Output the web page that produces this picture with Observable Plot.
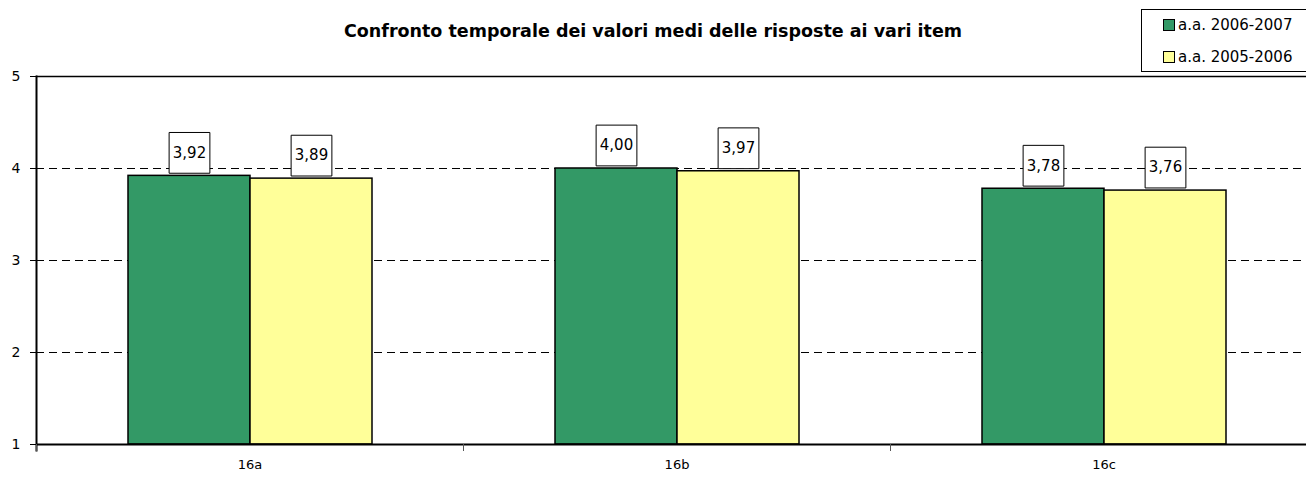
<!DOCTYPE html>
<html>
<head>
<meta charset="utf-8">
<script src="https://cdn.jsdelivr.net/npm/d3@7"></script>
<script src="https://cdn.jsdelivr.net/npm/@observablehq/plot@0.6"></script>
<style>
  html, body { margin: 0; padding: 0; background: #fff; }
  #wrap { position: relative; width: 1306px; height: 482px; overflow: hidden; font-family: "Comic Sans MS", "DejaVu Sans", sans-serif; }
  #title { position: absolute; left: 0; width: 1306px; top: 21px; text-align: center; font-weight: bold; font-size: 17.5px; color: #000; }
  #legend { position: absolute; left: 1141px; top: 9px; width: 170px; height: 63px; border: 1px solid #000; background: #fff; font-size: 15px; box-sizing: border-box; }
  .item { position: absolute; left: 21px; display: flex; align-items: center; white-space: nowrap; }
  .sw { width: 10px; height: 10px; border: 1px solid #000; margin-right: 3px; }
  #chart { position: absolute; left: 0; top: 0; width: 1320px; height: 482px; }
  #chart svg { max-width: none !important; }
</style>
</head>
<body>
<div id="wrap">
  <div id="chart"></div>
  <div id="title"></div>
  <div id="legend"></div>
</div>
<script>
const titleText = "Confronto temporale dei valori medi delle risposte ai vari item";
const categories = ["16a", "16b", "16c"];
const series = ["a.a. 2006-2007", "a.a. 2005-2006"];
const values20062007 = [3.92, 4.00, 3.78];
const values20052006 = [3.89, 3.97, 3.76];
const seriesColors = ["#339966", "#ffff99"];
const yTicks = [1, 2, 3, 4, 5];
const gridValues = [2, 3, 4];

const data = categories.flatMap((c, i) => [
  {cat: c, s: series[0], v: values20062007[i]},
  {cat: c, s: series[1], v: values20052006[i]}
]);
const fmt = v => d3.format(".2f")(v).replace(".", ",");
const font = "'Comic Sans MS', 'DejaVu Sans', sans-serif";

const chart = Plot.plot({
  width: 1318,
  height: 482,
  marginTop: 76,
  marginBottom: 38,
  marginLeft: 35,
  marginRight: 0,
  style: {fontFamily: font, fontSize: "13px", background: "transparent", overflow: "visible", maxWidth: "none"},
  fx: {domain: categories, padding: 0, label: null, axis: null},
  x: {domain: series, paddingInner: 0, paddingOuter: 0.75, align: 0.5, axis: null},
  y: {domain: [1, 5], label: null},
  color: {domain: series, range: seriesColors},
  marks: [
    Plot.ruleY(gridValues, {stroke: "#000", strokeWidth: 1, strokeDasharray: "8,5"}),
    Plot.ruleY([5], {stroke: "#000", strokeWidth: 1.5}),
    Plot.barY(data, {fx: "cat", x: "s", y1: 1, y2: "v", fill: "s", stroke: "#000", strokeWidth: 1.5}),
    Plot.ruleY([1], {stroke: "#000", strokeWidth: 2}),
    Plot.frame({anchor: "left", facetAnchor: "left", stroke: "#000", strokeWidth: 2, insetBottom: -6}),
    Plot.frame({anchor: "left", stroke: "#555", strokeWidth: 1, insetTop: 368, insetBottom: -6}),
    Plot.axisY({ticks: yTicks, tickFormat: d => String(d), tickSize: 6, tickPadding: 10, fontSize: 14, label: null}),
    Plot.axisFx({anchor: "bottom", tickSize: 0, tickPadding: 15, fontSize: 13, label: null}),
    Plot.dot(data, {fx: "cat", x: "s", y: "v", symbol: "square", r: 23, fill: "#fff", stroke: "#000", strokeWidth: 1, dy: -23}),
    Plot.text(data, {fx: "cat", x: "s", y: "v", text: d => fmt(d.v), dy: -23, fontSize: 15, fill: "#000"})
  ]
});
document.getElementById("chart").appendChild(chart);

document.getElementById("title").textContent = titleText;
const legend = document.getElementById("legend");
series.forEach((s, i) => {
  const item = document.createElement("div");
  item.className = "item";
  item.style.top = (i === 0 ? 6 : 38) + "px";
  const sw = document.createElement("span");
  sw.className = "sw";
  sw.style.background = seriesColors[i];
  const t = document.createElement("span");
  t.textContent = s;
  item.appendChild(sw);
  item.appendChild(t);
  legend.appendChild(item);
});
</script>
</body>
</html>
